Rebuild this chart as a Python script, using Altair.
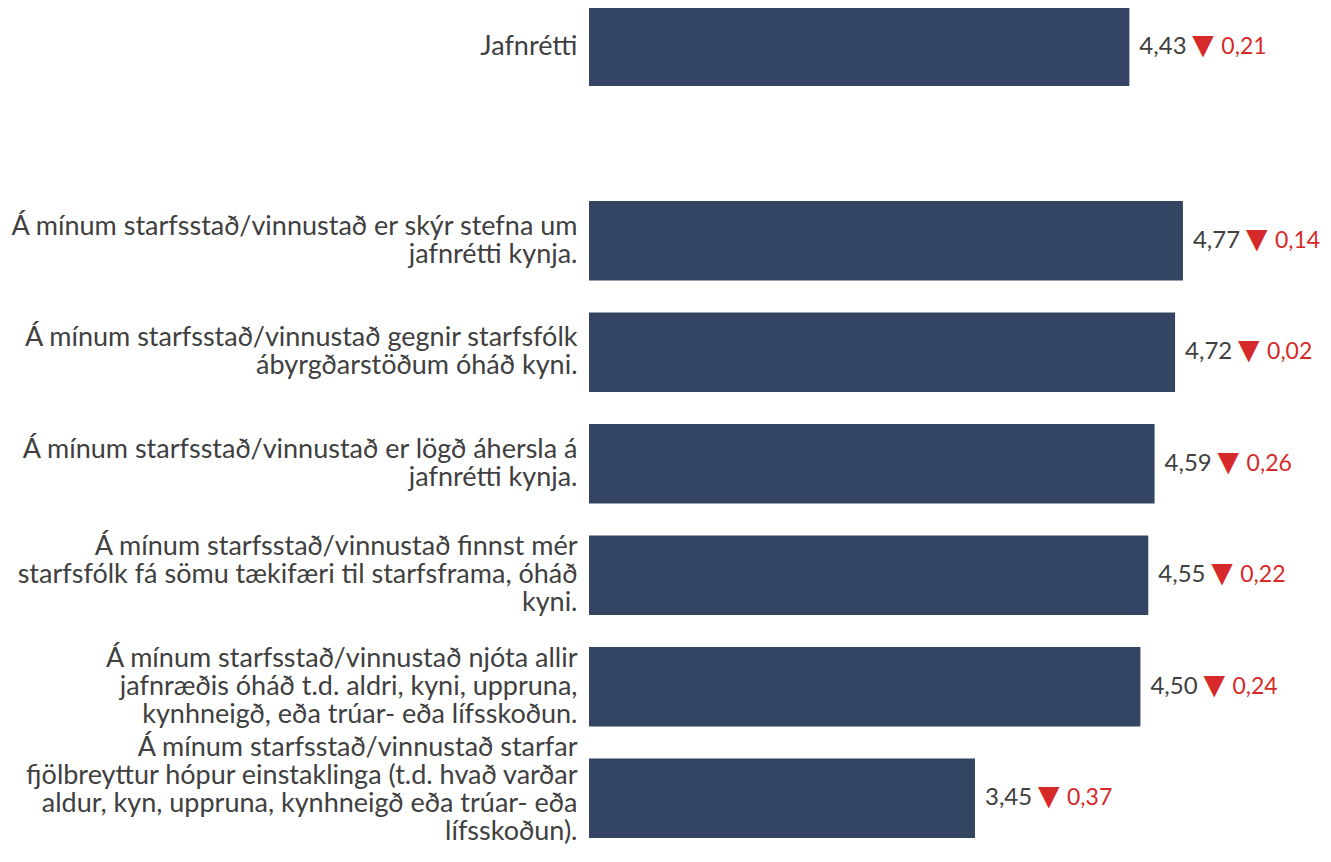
import altair as alt
import pandas as pd

# ---- data ----
top_label = ["Jafnrétti"]
top_value = [4.43]
top_delta = ["0,21"]

items = [
    ["Á mínum starfsstað/vinnustað er skýr stefna um", "jafnrétti kynja."],
    ["Á mínum starfsstað/vinnustað gegnir starfsfólk", "ábyrgðarstöðum óháð kyni."],
    ["Á mínum starfsstað/vinnustað er lögð áhersla á", "jafnrétti kynja."],
    ["Á mínum starfsstað/vinnustað finnst mér", "starfsfólk fá sömu tækifæri til starfsframa, óháð", "kyni."],
    ["Á mínum starfsstað/vinnustað njóta allir", "jafnræðis óháð t.d. aldri, kyni, uppruna,", "kynhneigð, eða trúar- eða lífsskoðun."],
    ["Á mínum starfsstað/vinnustað starfar", "fjölbreyttur hópur einstaklinga (t.d. hvað varðar", "aldur, kyn, uppruna, kynhneigð eða trúar- eða", "lífsskoðun)."],
]
item_values = [4.77, 4.72, 4.59, 4.55, 4.50, 3.45]
item_deltas = ["0,14", "0,02", "0,26", "0,22", "0,24", "0,37"]

BAR = "#344563"
GRAY = "#404040"
RED = "#d62a2a"
FONT = "Lato"
LH = 28
PLOT_W = 731
X_MAX = 5.64


def fmt(v):
    return f"{v:.2f}".replace(".", ",")


def make_df(labels, values, deltas):
    return pd.DataFrame({
        "label": labels,
        "value": values,
        "vtxt": [fmt(v) for v in values],
        "tri": ["▼"] * len(values),
        "dtxt": deltas,
    })


def panel(df, height, pad_inner, pad_outer):
    y = alt.Y("label:N", sort=None, title=None,
              scale=alt.Scale(paddingInner=pad_inner, paddingOuter=pad_outer, round=False),
              axis=alt.Axis(domain=False, ticks=False, labelFont=FONT, labelFontSize=27,
                            labelColor=GRAY, labelPadding=12, labelLimit=0,
                            labelLineHeight=LH, minExtent=581, maxExtent=581,
                            labelOffset=alt.ExprRef(
                                f"-(length(split(datum.label, '\\n')) - 1) * {LH / 2}"
                                f" - (length(split(datum.label, '\\n')) > 3 ? 8 : 0)"),
                            labelExpr="split(datum.label, '\\n')"))
    x = alt.X("value:Q", title=None, axis=None,
              scale=alt.Scale(domain=[1, X_MAX], zero=False))
    base = alt.Chart(df)
    bars = base.mark_bar(color=BAR).encode(y=y, x=x, x2=alt.datum(1))
    vt = base.mark_text(align="left", baseline="middle", dx=10, font=FONT,
                        fontSize=24, color=GRAY).encode(y=y, x=x, text="vtxt:N")
    tri = base.mark_text(align="left", baseline="middle", dx=63, dy=-1, font="DejaVu Sans",
                         fontSize=28, color=RED).encode(y=y, x=x, text="tri:N")
    dt = base.mark_text(align="left", baseline="middle", dx=92, font=FONT,
                        fontSize=23, color=RED).encode(y=y, x=x, text="dtxt:N")
    return alt.layer(bars, vt, tri, dt).properties(width=PLOT_W, height=height)


top_df = make_df(top_label, top_value, top_delta)
bot_df = make_df(["\n".join(l) for l in items], item_values, item_deltas)

top = panel(top_df, 78, 0, 0)
bottom = panel(bot_df, 669, 0.285, 0.1425)

chart = alt.vconcat(top, bottom, spacing=99).properties(padding=0).configure_view(
    stroke=None
)

chart.save("out.html", embed_options={"renderer": "svg", "actions": False})
